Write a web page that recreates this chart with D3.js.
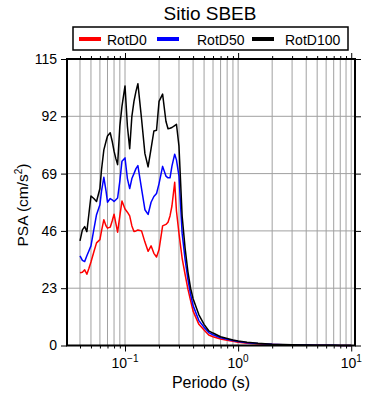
<!DOCTYPE html>
<html>
<head>
<meta charset="utf-8">
<script src="https://cdn.jsdelivr.net/npm/d3@7"></script>
<style>
  body { margin: 0; background: #fff; }
  svg { font-family: "Liberation Sans", Arial, sans-serif; }
</style>
</head>
<body>
<div id="chart"></div>
<script>
// periodos (s)
const periods = [0.040, 0.042, 0.044, 0.046, 0.048, 0.050, 0.053, 0.056, 0.060, 0.062,
  0.065, 0.068, 0.070, 0.074, 0.077, 0.080, 0.083, 0.086, 0.090, 0.094,
  0.100, 0.105, 0.110, 0.115, 0.120, 0.125, 0.130, 0.140, 0.150, 0.160,
  0.170, 0.180, 0.190, 0.200, 0.215, 0.230, 0.240, 0.250, 0.260, 0.275,
  0.285, 0.300, 0.320, 0.340, 0.360, 0.380, 0.400, 0.450, 0.500, 0.550,
  0.600, 0.700, 0.800, 0.900, 1.000, 1.200, 1.500, 2.000, 2.500, 3.000,
  4.000, 5.000, 6.000, 7.000, 8.000, 10.00];

const rotD0 = [29.2, 29.4, 30.4, 28.6, 31.0, 33.5, 37.5, 41.2, 42.5, 46.0,
  50.5, 48.0, 47.1, 47.5, 50.0, 52.7, 49.0, 45.5, 52.0, 58.0,
  54.8, 53.5, 52.0, 48.0, 45.8, 46.0, 46.4, 46.0, 41.5, 37.8,
  40.0, 37.0, 35.5, 38.5, 48.0, 48.6, 49.5, 52.0, 56.0, 65.5,
  54.0, 45.0, 35.0, 28.5, 22.6, 18.0, 13.8, 8.5, 6.2, 4.2,
  3.5, 2.6, 2.1, 1.7, 1.35, 0.95, 0.65, 0.4, 0.28, 0.2,
  0.13, 0.09, 0.07, 0.05, 0.04, 0.03];

const rotD50 = [36.0, 34.2, 33.7, 36.0, 38.0, 40.0, 46.5, 52.5, 56.5, 62.0,
  67.5, 62.0, 57.5, 59.0, 58.5, 57.8, 58.5, 59.2, 66.0, 74.0,
  75.3, 67.0, 63.0, 67.0, 69.0, 71.0, 72.2, 63.0, 54.5, 52.6,
  57.5, 59.8, 61.0, 65.0, 71.9, 68.0, 67.3, 67.3, 72.0, 76.8,
  74.5, 68.0, 45.0, 34.5, 26.5, 20.5, 16.0, 10.0, 7.3, 5.2,
  4.3, 3.1, 2.5, 2.0, 1.6, 1.15, 0.8, 0.48, 0.35, 0.26,
  0.17, 0.11, 0.08, 0.06, 0.045, 0.035];

const rotD100 = [42.0, 46.4, 47.7, 45.7, 53.0, 60.0, 59.0, 57.8, 63.0, 70.6,
  78.5, 82.0, 84.1, 85.4, 82.0, 78.0, 75.0, 72.6, 88.0, 96.0,
  104.2, 88.0, 79.0, 92.0, 98.0, 102.0, 105.1, 91.0, 77.0, 71.7,
  79.0, 86.1, 86.4, 98.0, 100.9, 90.0, 87.0, 87.2, 87.5, 88.3,
  88.8, 80.0, 52.0, 39.0, 29.6, 23.0, 18.8, 12.3, 8.5, 5.9,
  5.0, 3.5, 2.8, 2.2, 1.8, 1.3, 0.9, 0.55, 0.4, 0.3,
  0.2, 0.12, 0.09, 0.07, 0.05, 0.04];

const seriesNames = ["RotD0", "RotD50", "RotD100"];
const seriesColors = ["#ff0000", "#0000ff", "#000000"];
const yTicks = [0, 23, 46, 69, 92, 115];
const xMajor = [0.1, 1, 10];
const xMajorExp = ["-1", "0", "1"];

const width = 390, height = 400;
const margin = { top: 59, right: 35, bottom: 54.5, left: 67 };

const svg = d3.select("#chart").append("svg")
  .attr("width", width)
  .attr("height", height);

const x = d3.scaleLog().domain([0.0307, 10.8]).range([margin.left, width - margin.right]);
const y = d3.scaleLinear().domain([0, 115]).range([height - margin.bottom, margin.top]);

// todas las marcas del eje log (1..9 por decada)
const logTicks = [];
[0.01, 0.1, 1].forEach(dec => {
  for (let k = 1; k <= 9; k++) logTicks.push(+(dec * k).toPrecision(3));
});
logTicks.push(10);
const xTicks = logTicks.filter(t => t >= x.domain()[0] && t <= x.domain()[1]);
const isMajor = t => xMajor.includes(t);

// grilla
svg.append("g")
  .selectAll("line")
  .data(xTicks)
  .enter().append("line")
  .attr("x1", d => x(d)).attr("x2", d => x(d))
  .attr("y1", y(0)).attr("y2", y(115))
  .attr("stroke", "#a0a0a0")
  .attr("stroke-width", 1);

svg.append("g")
  .selectAll("line")
  .data(yTicks.slice(1, -1))
  .enter().append("line")
  .attr("x1", x.range()[0]).attr("x2", x.range()[1])
  .attr("y1", d => y(d)).attr("y2", d => y(d))
  .attr("stroke", "#a0a0a0")
  .attr("stroke-width", 1);

// curvas
const line = d3.line()
  .x(d => x(d[0]))
  .y(d => y(d[1]));

[rotD0, rotD50, rotD100].forEach((vals, i) => {
  svg.append("path")
    .datum(periods.map((p, j) => [p, vals[j]]))
    .attr("fill", "none")
    .attr("stroke", seriesColors[i])
    .attr("stroke-width", 1.5)
    .attr("stroke-linejoin", "round")
    .attr("d", line);
});

// ejes
const tickSize = d => (isMajor(d) ? 6 : 3);

const axisBottomG = svg.append("g").attr("transform", `translate(0,${y(0)})`)
  .call(d3.axisBottom(x).tickValues(xTicks).tickFormat("").tickSizeOuter(0).tickSizeInner(4));
axisBottomG.selectAll(".tick line").attr("y2", d => tickSize(d)).attr("stroke-width", 1);

const axisTopG = svg.append("g").attr("transform", `translate(0,${y(115)})`)
  .call(d3.axisTop(x).tickValues(xTicks).tickFormat("").tickSizeOuter(0).tickSizeInner(4));
axisTopG.selectAll(".tick line").attr("y2", d => -tickSize(d)).attr("stroke-width", 1);

const axisLeftG = svg.append("g").attr("transform", `translate(${x.range()[0]},0)`)
  .call(d3.axisLeft(y).tickValues(yTicks).tickSizeOuter(0).tickSizeInner(6).tickPadding(4));
axisLeftG.selectAll(".tick text").attr("font-size", 14).attr("fill", "#000")
  .attr("font-family", "Liberation Sans, Arial, sans-serif");

svg.append("g").attr("transform", `translate(${x.range()[1]},0)`)
  .call(d3.axisRight(y).tickValues(yTicks).tickFormat("").tickSizeOuter(0).tickSizeInner(6));

svg.selectAll(".domain").remove();

// marco
svg.append("rect")
  .attr("x", x.range()[0]).attr("y", y(115))
  .attr("width", x.range()[1] - x.range()[0])
  .attr("height", y(0) - y(115))
  .attr("fill", "none")
  .attr("stroke", "#000")
  .attr("stroke-width", 2);

// etiquetas eje x (10^n)
const xl = svg.append("g")
  .selectAll("text")
  .data(xMajor)
  .enter().append("text")
  .attr("x", d => x(d))
  .attr("y", y(0) + 22)
  .attr("text-anchor", "middle")
  .attr("font-size", 14);
xl.append("tspan").text("10");
xl.append("tspan").attr("dy", -6).attr("font-size", 10).text((d, i) => xMajorExp[i].replace("-", "\u2212"));

// titulos
svg.append("text")
  .attr("x", 210).attr("y", 20)
  .attr("text-anchor", "middle")
  .attr("font-size", 19)
  .text("Sitio SBEB");

svg.append("text")
  .attr("x", 211).attr("y", 388)
  .attr("text-anchor", "middle")
  .attr("font-size", 16)
  .text("Periodo (s)");

const yt = svg.append("text")
  .attr("transform", "translate(28,205) rotate(-90)")
  .attr("text-anchor", "middle")
  .attr("font-size", 15.5);
yt.append("tspan").text("PSA (cm/s");
yt.append("tspan").attr("dy", -6).attr("font-size", 10).text("2");
yt.append("tspan").attr("dy", 6).text(")");

// leyenda
const legend = svg.append("g");
legend.append("rect")
  .attr("x", 73).attr("y", 27)
  .attr("width", 275).attr("height", 23)
  .attr("fill", "#fff")
  .attr("stroke", "#000")
  .attr("stroke-width", 1.5);

const legendX = [79, 157, 252];
seriesNames.forEach((name, i) => {
  legend.append("line")
    .attr("x1", legendX[i]).attr("x2", legendX[i] + 22)
    .attr("y1", 39).attr("y2", 39)
    .attr("stroke", seriesColors[i])
    .attr("stroke-width", 4);
  legend.append("text")
    .attr("x", legendX[i] + (i === 0 ? 28 : 40 - (i === 2 ? 7 : 0)))
    .attr("y", 44.5)
    .attr("font-size", 14)
    .text(name);
});
</script>
</body>
</html>
